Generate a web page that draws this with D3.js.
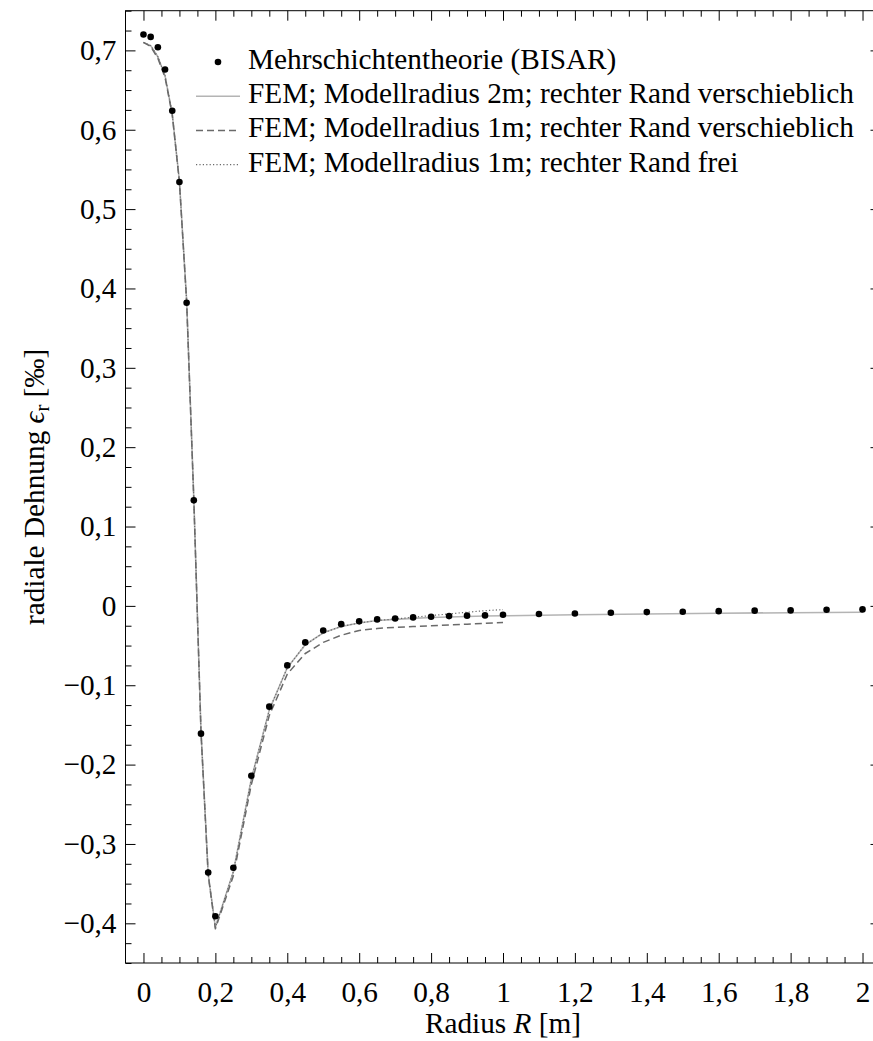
<!DOCTYPE html>
<html>
<head>
<meta charset="utf-8">
<script src="https://cdn.jsdelivr.net/npm/d3@7"></script>
<style>
  html, body { margin: 0; padding: 0; background: #fff; }
  svg { display: block; }
</style>
</head>
<body>
<svg id="chart" width="873" height="1041"></svg>
<script>
// Radial strain at the bottom of the layer over the radius: BISAR reference points
// and three FEM model variants.

// BISAR (multi-layer theory) sample points
const bisarR = [0, 0.02, 0.04, 0.06, 0.08, 0.1, 0.12, 0.14, 0.16, 0.18, 0.2, 0.25, 0.3, 0.35,
  0.4, 0.45, 0.5, 0.55, 0.6, 0.65, 0.7, 0.75, 0.8, 0.85, 0.9, 0.95, 1.0,
  1.1, 1.2, 1.3, 1.4, 1.5, 1.6, 1.7, 1.8, 1.9, 2.0];
const bisarEps = [0.720, 0.717, 0.704, 0.676, 0.624, 0.534, 0.382, 0.133, -0.161, -0.336, -0.391,
  -0.330, -0.214, -0.127, -0.075, -0.046, -0.031, -0.023, -0.0195, -0.017, -0.0158, -0.0145,
  -0.0136, -0.0129, -0.0123, -0.012, -0.0111, -0.0103, -0.0095, -0.0086, -0.0078, -0.0073,
  -0.0066, -0.006, -0.0057, -0.0048, -0.0044];

// FEM, model radius 2 m, right edge on rollers
const fem2R = [0, 0.02, 0.04, 0.06, 0.08, 0.1, 0.12, 0.14, 0.16, 0.18, 0.2, 0.25, 0.3, 0.35,
  0.4, 0.45, 0.5, 0.55, 0.6, 0.65, 0.7, 0.75, 0.8, 0.85, 0.9, 0.95, 1.0,
  1.2, 1.4, 1.6, 1.8, 2.0];
const fem2Eps = [0.710, 0.706, 0.692, 0.668, 0.620, 0.535, 0.385, 0.135, -0.158, -0.338, -0.405,
  -0.335, -0.218, -0.131, -0.078, -0.049, -0.034, -0.026, -0.0215, -0.0185, -0.017, -0.0157,
  -0.0147, -0.014, -0.0133, -0.0128, -0.0125, -0.0112, -0.0102, -0.0093, -0.0086, -0.008];

// FEM, model radius 1 m, right edge on rollers
const fem1VR = [0, 0.02, 0.04, 0.06, 0.08, 0.1, 0.12, 0.14, 0.16, 0.18, 0.2, 0.25, 0.3, 0.35,
  0.4, 0.45, 0.5, 0.55, 0.6, 0.65, 0.7, 0.75, 0.8, 0.85, 0.9, 0.95, 1.0];
const fem1VEps = [0.710, 0.705, 0.690, 0.666, 0.619, 0.534, 0.384, 0.134, -0.159, -0.339, -0.407,
  -0.340, -0.225, -0.138, -0.086, -0.060, -0.046, -0.037, -0.031, -0.0285, -0.027, -0.026,
  -0.025, -0.024, -0.023, -0.022, -0.021];

// FEM, model radius 1 m, right edge free
const fem1FR = [0, 0.02, 0.04, 0.06, 0.08, 0.1, 0.12, 0.14, 0.16, 0.18, 0.2, 0.25, 0.3, 0.35,
  0.4, 0.45, 0.5, 0.55, 0.6, 0.65, 0.7, 0.75, 0.8, 0.85, 0.9, 0.95, 1.0];
const fem1FEps = [0.710, 0.706, 0.692, 0.668, 0.620, 0.535, 0.385, 0.135, -0.158, -0.338, -0.405,
  -0.335, -0.218, -0.131, -0.078, -0.049, -0.034, -0.026, -0.0215, -0.0185, -0.0165, -0.0143,
  -0.0122, -0.0101, -0.008, -0.006, -0.0047];

// Axis ticks and their labels
const xMajorTicks = [0, 0.2, 0.4, 0.6, 0.8, 1.0, 1.2, 1.4, 1.6, 1.8, 2.0];
const xTickLabels = ["0", "0,2", "0,4", "0,6", "0,8", "1", "1,2", "1,4", "1,6", "1,8", "2"];
const yMajorTicks = [0.7, 0.6, 0.5, 0.4, 0.3, 0.2, 0.1, 0, -0.1, -0.2, -0.3, -0.4];
const yTickLabels = ["0,7", "0,6", "0,5", "0,4", "0,3", "0,2", "0,1", "0",
  "\u22120,1", "\u22120,2", "\u22120,3", "\u22120,4"];

const legendLabels = [
  "Mehrschichtentheorie (BISAR)",
  "FEM; Modellradius 2m; rechter Rand verschieblich",
  "FEM; Modellradius 1m; rechter Rand verschieblich",
  "FEM; Modellradius 1m; rechter Rand frei"
];

const FAMILY = "'Liberation Serif', 'DejaVu Serif', serif";
const svg = d3.select("#chart").style("font-family", FAMILY);

// pick a font size so the longest legend entry spans its intended width
const probe = svg.append("text").style("font-family", FAMILY).attr("font-size", 24).text(legendLabels[1]);
const probeW = probe.node().getComputedTextLength() || 500;
probe.remove();
const FONT = Math.max(22, Math.min(30, 24 * 606 / probeW));

const plot = { left: 125.5, right: 880.5, top: 10.7, bottom: 963 };

const x = d3.scaleLinear().domain([-0.05, 2.05]).range([plot.left, plot.right]);
const y = d3.scaleLinear().domain([-0.45, 0.75]).range([plot.bottom, plot.top]);

const xMinor = d3.range(0, 41).map(i => i * 0.05).filter(v => !xMajorTicks.some(m => Math.abs(m - v) < 1e-9));
const yMinor = d3.range(-18, 31).map(i => i * 0.025).filter(v => !yMajorTicks.some(m => Math.abs(m - v) < 1e-9));

const MAJ = 10, MIN = 6;

function styleAxis(g) {
  g.attr("font-family", FAMILY).attr("font-size", FONT);
  g.select(".domain").remove();
  g.selectAll(".tick line").attr("stroke", "#000").attr("stroke-width", 1);
  g.selectAll(".tick text").style("font-family", FAMILY).attr("font-size", FONT).attr("fill", "#000");
}

// bottom axis: inward ticks, labels below
svg.append("g").attr("transform", `translate(0,${plot.bottom})`)
  .call(d3.axisBottom(x).tickValues(xMajorTicks).tickSize(-MAJ).tickPadding(0)
    .tickFormat((d, i) => xTickLabels[i]))
  .call(styleAxis)
  .call(g => g.selectAll(".tick text").attr("y", 1002 - plot.bottom).attr("dy", null));
svg.append("g").attr("transform", `translate(0,${plot.bottom})`)
  .call(d3.axisBottom(x).tickValues(xMinor).tickSize(-MIN).tickFormat(""))
  .call(styleAxis);
// top axis mirror ticks
svg.append("g").attr("transform", `translate(0,${plot.top})`)
  .call(d3.axisTop(x).tickValues(xMajorTicks).tickSize(-MAJ).tickFormat(""))
  .call(styleAxis);
svg.append("g").attr("transform", `translate(0,${plot.top})`)
  .call(d3.axisTop(x).tickValues(xMinor).tickSize(-MIN).tickFormat(""))
  .call(styleAxis);

// left axis with labels
svg.append("g").attr("transform", `translate(${plot.left},0)`)
  .call(d3.axisLeft(y).tickValues(yMajorTicks).tickSize(-MAJ).tickPadding(9)
    .tickFormat((d, i) => yTickLabels[i]))
  .call(styleAxis);
svg.append("g").attr("transform", `translate(${plot.left},0)`)
  .call(d3.axisLeft(y).tickValues(yMinor).tickSize(-MIN).tickFormat(""))
  .call(styleAxis);
// right axis mirror ticks
svg.append("g").attr("transform", `translate(${plot.right},0)`)
  .call(d3.axisRight(y).tickValues(yMajorTicks).tickSize(-MAJ).tickFormat(""))
  .call(styleAxis);
svg.append("g").attr("transform", `translate(${plot.right},0)`)
  .call(d3.axisRight(y).tickValues(yMinor).tickSize(-MIN).tickFormat(""))
  .call(styleAxis);

// frame
svg.append("rect")
  .attr("x", plot.left).attr("y", plot.top)
  .attr("width", plot.right - plot.left).attr("height", plot.bottom - plot.top)
  .attr("fill", "none").attr("stroke", "#000").attr("stroke-width", 1);

// series styles
const styles = [
  { stroke: "#b4b4b4", width: 1.6, dash: null },
  { stroke: "#6a6a6a", width: 1.5, dash: "7,4" },
  { stroke: "#6a6a6a", width: 1.2, dash: "1.2,2.2" }
];
const line = d3.line().x(d => x(d[0])).y(d => y(d[1]));
const series = [
  d3.zip(fem2R, fem2Eps),
  d3.zip(fem1VR, fem1VEps),
  d3.zip(fem1FR, fem1FEps)
];
series.forEach((data, i) => {
  svg.append("path").datum(data)
    .attr("d", line)
    .attr("fill", "none")
    .attr("stroke", styles[i].stroke)
    .attr("stroke-width", styles[i].width)
    .attr("stroke-dasharray", styles[i].dash)
    .attr("stroke-linejoin", "round");
});

// BISAR points
svg.append("g").selectAll("circle")
  .data(d3.zip(bisarR, bisarEps))
  .join("circle")
  .attr("cx", d => x(d[0])).attr("cy", d => y(d[1]))
  .attr("r", 3.3).attr("fill", "#000");

// legend
const lg = svg.append("g");
const legX0 = 196, legX1 = 240, legTextX = 248, legY0 = 62, legStep = 34.2;
legendLabels.forEach((label, i) => {
  const cy = legY0 + i * legStep;
  if (i === 0) {
    lg.append("circle").attr("cx", (legX0 + legX1) / 2).attr("cy", cy).attr("r", 3.3).attr("fill", "#000");
  } else {
    const st = styles[i - 1];
    lg.append("line").attr("x1", legX0).attr("x2", legX1).attr("y1", cy).attr("y2", cy)
      .attr("stroke", st.stroke).attr("stroke-width", st.width)
      .attr("stroke-dasharray", st.dash);
  }
  lg.append("text").attr("x", legTextX).attr("y", cy + 7)
    .style("font-family", FAMILY).attr("font-size", FONT).text(label);
});

// axis titles
const xt = svg.append("text")
  .attr("x", (plot.left + plot.right) / 2).attr("y", 1033)
  .attr("text-anchor", "middle").style("font-family", FAMILY).attr("font-size", FONT);
xt.append("tspan").text("Radius ");
xt.append("tspan").attr("font-style", "italic").text("R");
xt.append("tspan").text(" [m]");

const yt = svg.append("text")
  .attr("transform", `translate(44,${(plot.top + plot.bottom) / 2}) rotate(-90)`)
  .attr("text-anchor", "middle").style("font-family", FAMILY).attr("font-size", FONT);
yt.append("tspan").text("radiale Dehnung ");
yt.append("tspan").attr("font-style", "italic").text("\u03F5");
yt.append("tspan").attr("font-size", FONT * 0.7).attr("dy", 5).text("r");
yt.append("tspan").attr("dy", -5).text(" [\u2030]");
</script>
</body>
</html>
